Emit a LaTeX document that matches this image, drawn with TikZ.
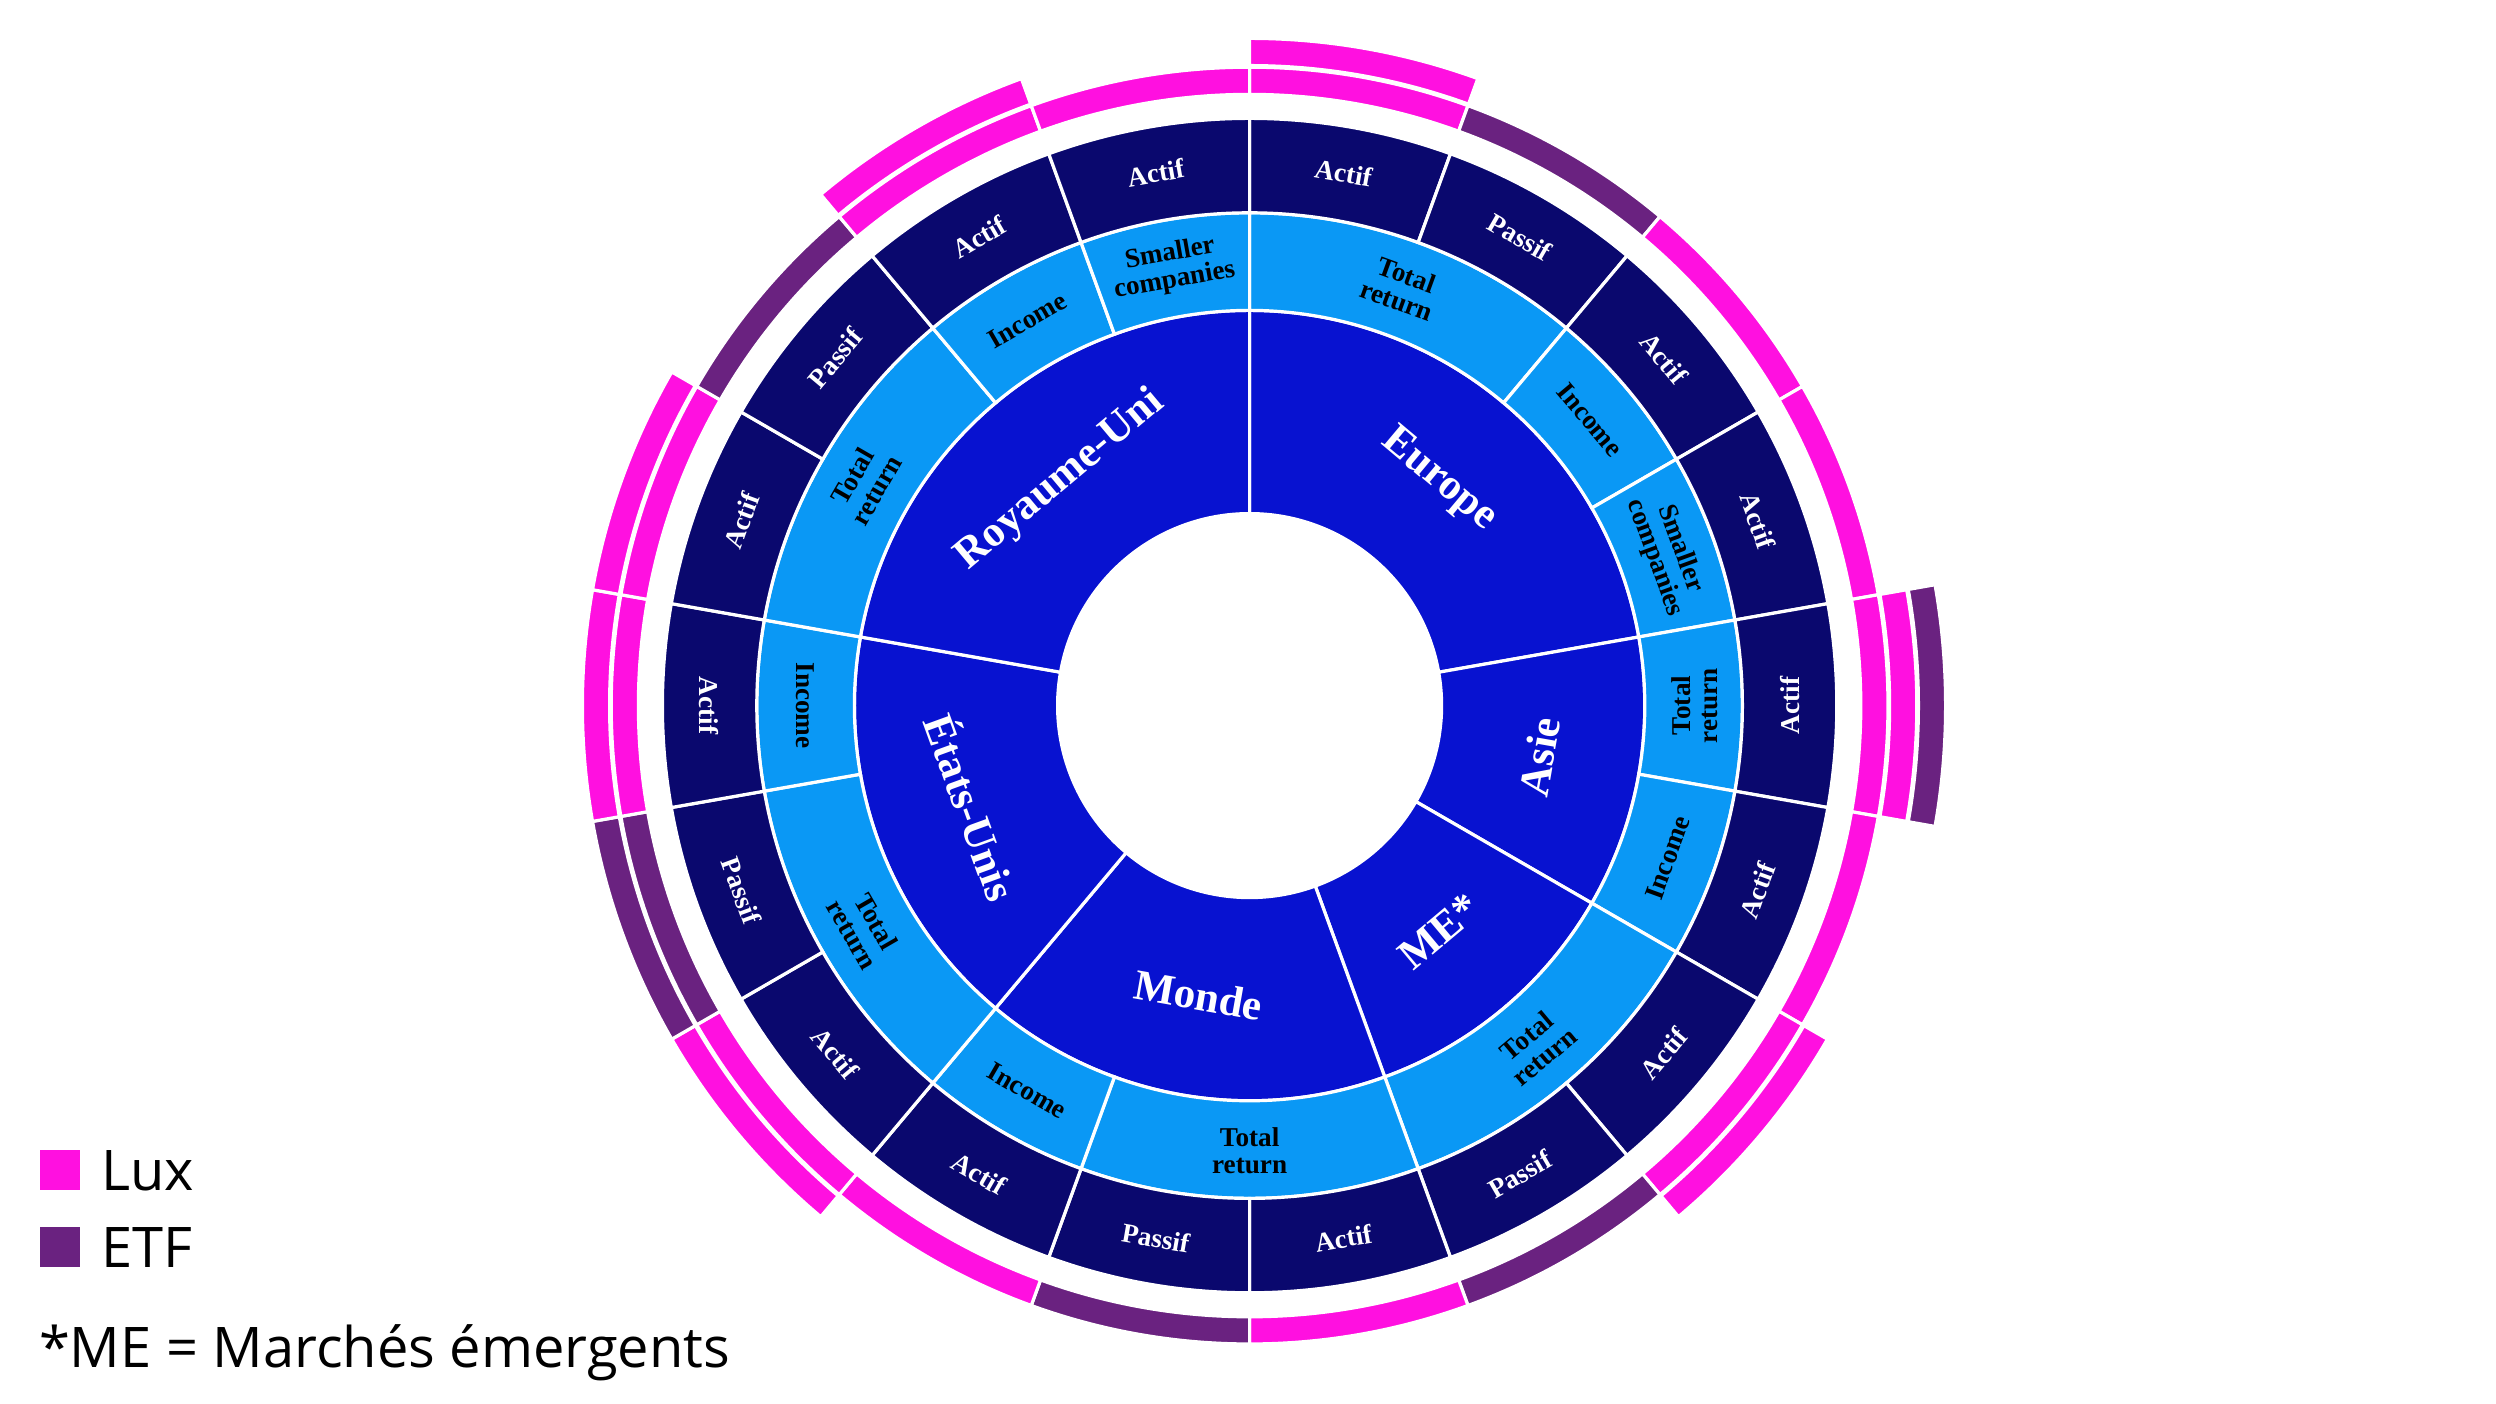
\documentclass[tikz,border=0pt]{standalone}
\usepackage{fontspec}
\setmainfont{Liberation Serif}
\newfontfamily\legfont{Open Sans}
\definecolor{regblue}{HTML}{0812D0}
\definecolor{subblue}{HTML}{0A98F5}
\definecolor{navy}{HTML}{0A086E}
\definecolor{lux}{HTML}{FF10E0}
\definecolor{etf}{HTML}{6A2280}
\newcommand\annsec[5]{\fill[#5,draw=white,line width=1pt] (#1:#4) arc[start angle=#1,end angle=#2,radius=#4] -- (#2:#3) arc[start angle=#2,end angle=#1,radius=#3] -- cycle;}
\newcommand\rlab[5]{\pgfmathsetmacro\rot{(#1>0 && #1<180) ? #1-90 : #1+90}\node[#3,rotate=\rot] (#5) at (#1:#2) {#4};}
\tikzset{
 reglab/.style={text=white,font=\bfseries\fontsize{13.5}{14}\selectfont,inner sep=0pt},
 sublab/.style={text=black,font=\bfseries\fontsize{8.5}{8.5}\selectfont,align=center,inner sep=0pt},
 typlab/.style={text=white,font=\bfseries\fontsize{8.5}{9}\selectfont,inner sep=0pt},
 legbox/.style={minimum size=12.5pt,inner sep=0pt},
 legtxt/.style={font=\legfont\fontsize{17.5}{19}\selectfont,anchor=west,inner sep=0pt}
}
\begin{document}
\begin{tikzpicture}
\useasboundingbox (0,0) rectangle (780pt,438.75pt);
\begin{scope}[shift={(390.5pt,218.25pt)}]
\foreach \a/\b in {90/10,10/-30,-30/-70,-70/-130,-130/-190,170/90}{\annsec{\a}{\b}{60pt}{123.5pt}{regblue}}
\foreach \a/\b in {90/50,50/30,30/10,10/-10,-10/-30,-30/-70,-70/-110,-110/-130,-130/-170,-170/-190,170/130,130/110,110/90}{\annsec{\a}{\b}{123.5pt}{154pt}{subblue}}
\foreach \a in {90,70,...,-250}{\pgfmathsetmacro\b{\a-20}\annsec{\a}{\b}{154pt}{183.5pt}{navy}}
\foreach \a/\c in {90/lux,70/etf,50/lux,30/lux,10/lux,-10/lux,-30/lux,-50/etf,-70/lux,-90/etf,-110/lux,-130/lux,-150/etf,-170/lux,170/lux,150/etf,130/lux,110/lux}{\pgfmathsetmacro\b{\a-20}\annsec{\a}{\b}{191pt}{199.5pt}{\c}}
\foreach \a/\c in {90/lux,10/lux,-30/lux,-130/lux,-150/etf,-170/lux,170/lux,130/lux}{\pgfmathsetmacro\b{\a-20}\annsec{\a}{\b}{200pt}{208.5pt}{\c}}
\annsec{10}{-10}{209pt}{217.5pt}{etf}
\fill[white] (0,0) circle (60pt);
\rlab{50}{92pt}{reglab}{Europe}{rEU}
\rlab{-10}{92pt}{reglab}{Asie}{rAS}
\rlab{-50}{92pt}{reglab}{ME*}{rME}
\rlab{-100}{92pt}{reglab}{Monde}{rMO}
\rlab{-160}{92pt}{reglab}{États-Unis}{rUS}
\rlab{130}{92pt}{reglab}{Royaume-Uni}{rUK}
\rlab{70}{139pt}{sublab}{Total\\return}{s1}
\rlab{40}{139pt}{sublab}{Income}{s2}
\rlab{20}{139pt}{sublab}{Smaller\\companies}{s3}
\rlab{0}{139pt}{sublab}{Total\\return}{s4}
\rlab{-20}{139pt}{sublab}{Income}{s5}
\rlab{-50}{139pt}{sublab}{Total\\return}{s6}
\rlab{-90}{139pt}{sublab}{Total\\return}{s7}
\rlab{-120}{139pt}{sublab}{Income}{s8}
\rlab{-150}{139pt}{sublab}{Total\\return}{s9}
\rlab{180}{139pt}{sublab}{Income}{s10}
\rlab{150}{139pt}{sublab}{Total\\return}{s11}
\rlab{120}{139pt}{sublab}{Income}{s12}
\rlab{100}{139pt}{sublab}{Smaller\\companies}{s13}
\foreach \m/\t [count=\i] in {80/Actif,60/Passif,40/Actif,20/Actif,0/Actif,-20/Actif,-40/Actif,-60/Passif,-80/Actif,-100/Passif,-120/Actif,-140/Actif,-160/Passif,180/Actif,160/Actif,140/Passif,120/Actif,100/Actif}{\rlab{\m}{169pt}{typlab}{\t}{t\i}}
\end{scope}
\node[legbox,fill=lux] (luxbox) at (18.75pt,73pt) {};
\node[legtxt] (luxtxt) at (31.5pt,73pt) {Lux};
\node[legbox,fill=etf] (etfbox) at (18.75pt,49pt) {};
\node[legtxt] (etftxt) at (31.5pt,49pt) {ETF};
\node[legtxt] (note) at (12pt,16pt) {*ME = Marchés émergents};
\end{tikzpicture}
\end{document}
